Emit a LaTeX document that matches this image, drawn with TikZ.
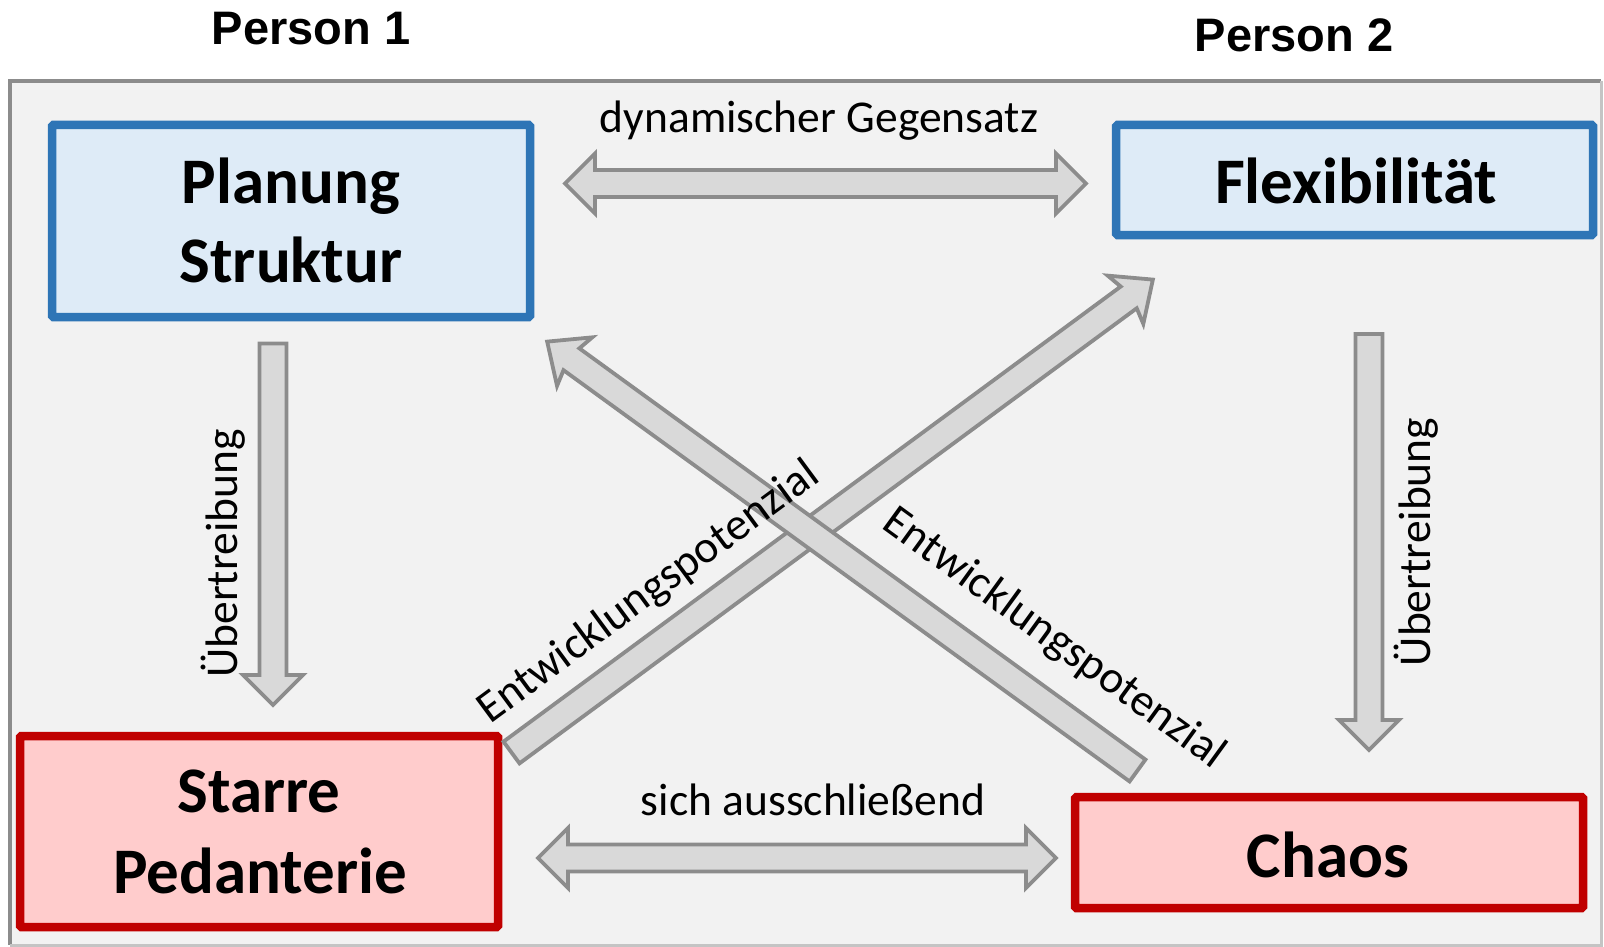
\documentclass[tikz,border=0pt]{standalone}
\usepackage{fontspec}
\setmainfont{Carlito}
\newfontfamily\personfont{Liberation Sans}
\usetikzlibrary{calc}

\definecolor{framefill}{HTML}{F2F2F2}
\definecolor{framedark}{HTML}{8C8C8C}
\definecolor{framelight}{HTML}{C4C4C4}
\definecolor{blueborder}{HTML}{2E75B6}
\definecolor{bluefill}{HTML}{DEEBF7}
\definecolor{redborder}{HTML}{C00000}
\definecolor{redfill}{HTML}{FFCCCC}
\definecolor{arrowfill}{HTML}{D9D9D9}
\definecolor{arrowline}{HTML}{8C8C8C}

% single block arrow from #2 to #3, #1 = sweep of the barbs
\newcommand\blkarrow[3][0pt]{%
  \draw[blkarrowstyle] let \p1=(#2), \p2=(#3),
     \n1={atan2(\y2-\y1,\x2-\x1)}, \n2={veclen(\x2-\x1,\y2-\y1)} in
     [shift={(\p1)}, rotate=\n1]
     (0pt,-13.5pt) -- ({\n2-30pt},-13.5pt) -- ({\n2-30pt-#1},-30pt) -- ({\n2+0pt},0pt)
     -- ({\n2-30pt-#1},30pt) -- ({\n2-30pt},13.5pt) -- (0pt,13.5pt) -- cycle;}
% double block arrow between #1 and #2
\newcommand\dblarrow[2]{%
  \draw[blkarrowstyle] let \p1=(#1), \p2=(#2),
     \n1={atan2(\y2-\y1,\x2-\x1)}, \n2={veclen(\x2-\x1,\y2-\y1)} in
     [shift={(\p1)}, rotate=\n1]
     (30pt,-13.5pt) -- ({\n2-30pt},-13.5pt) -- ({\n2-30pt},-30pt) -- ({\n2+0pt},0pt)
     -- ({\n2-30pt},30pt) -- ({\n2-30pt},13.5pt) -- (30pt,13.5pt) -- (30pt,30pt)
     -- (0pt,0pt) -- (30pt,-30pt) -- cycle;}

\tikzset{
  blkarrowstyle/.style={fill=arrowfill, draw=arrowline, line width=3.8pt, line join=miter},
  bluebox/.style={draw=blueborder, fill=bluefill, line width=8.5pt, rounded corners=1.5pt, inner sep=0pt},
  redbox/.style={draw=redborder, fill=redfill, line width=8.5pt, rounded corners=1.5pt, inner sep=0pt},
  boxtext/.style={font=\fontsize{65}{79}\selectfont\bfseries, inner sep=0pt},
  labeltext/.style={font=\fontsize{45.5}{55}\selectfont, inner sep=0pt},
  persontext/.style={font=\personfont\fontsize{47}{56}\selectfont\bfseries, inner sep=0pt},
}

\begin{document}
\begin{tikzpicture}[x=1pt,y=-1pt]
\useasboundingbox (0,0) rectangle (1604,947);

% frame
\fill[framefill] (10,81) rectangle (1601,945);
\draw[framedark, line width=3.5pt] (10,945) -- (10,81) -- (1601,81);
\draw[framelight, line width=3pt] (1601,81) -- (1601,945) -- (10,945);

% person headings
\node[persontext, anchor=base] (p1) at (311,45) {Person 1};
\node[persontext, anchor=base] (p2) at (1294,52) {Person 2};

% boxes
\node[bluebox, minimum width=478, minimum height=192] (planung) at (291,221) {};
\node[bluebox, minimum width=477, minimum height=110] (flex) at (1354.5,180) {};
\node[redbox, minimum width=478, minimum height=191] (starre) at (259,831.5) {};
\node[redbox, minimum width=508, minimum height=111] (chaos) at (1329,852.5) {};

\node[boxtext, anchor=base] (planungA) at (291,203) {Planung};
\node[boxtext, anchor=base] (planungB) at (291,282) {Struktur};
\node[boxtext, anchor=base] (flexA) at (1356,204) {Flexibilität};
\node[boxtext, anchor=base] (starreA) at (259,812) {Starre};
\node[boxtext, anchor=base] (starreB) at (260,893) {Pedanterie};
\node[boxtext, anchor=base] (chaosA) at (1328,877) {Chaos};

% arrow end points
\coordinate (dynL) at (565,183.5);
\coordinate (dynR) at (1086,183.5);
\coordinate (ausL) at (538,858);
\coordinate (ausR) at (1056,858);
\coordinate (ueL1) at (273,343.5);
\coordinate (ueL2) at (273,705);
\coordinate (ueR1) at (1369,334);
\coordinate (ueR2) at (1369,750);
\coordinate (entA1) at (511.5,752.5);
\coordinate (entA2) at (1153,279.5);
\coordinate (entB1) at (1137.5,770.5);
\coordinate (entB2) at (547,341.5);

% arrows
\dblarrow{dynL}{dynR}
\dblarrow{ausL}{ausR}
\blkarrow{ueL1}{ueL2}
\blkarrow{ueR1}{ueR2}
\blkarrow[4pt]{entA1}{entA2}
\blkarrow[4pt]{entB1}{entB2}

% labels
\node[labeltext, anchor=base] (dyn) at (819,133) {dynamischer Gegensatz};
\node[labeltext, anchor=base] (aus) at (813,815) {sich ausschließend};
\node[labeltext, anchor=base, rotate=90] (ueLt) at (237,553.5) {Übertreibung};
\node[labeltext, anchor=base, rotate=90] (ueRt) at (1430,542) {Übertreibung};
\node[labeltext, rotate=36.4] (entAt) at (649,593) {Entwicklungspotenzial};
\node[labeltext, rotate=-36] (entBt) at (1054,639) {Entwicklungspotenzial};
\end{tikzpicture}
\end{document}
